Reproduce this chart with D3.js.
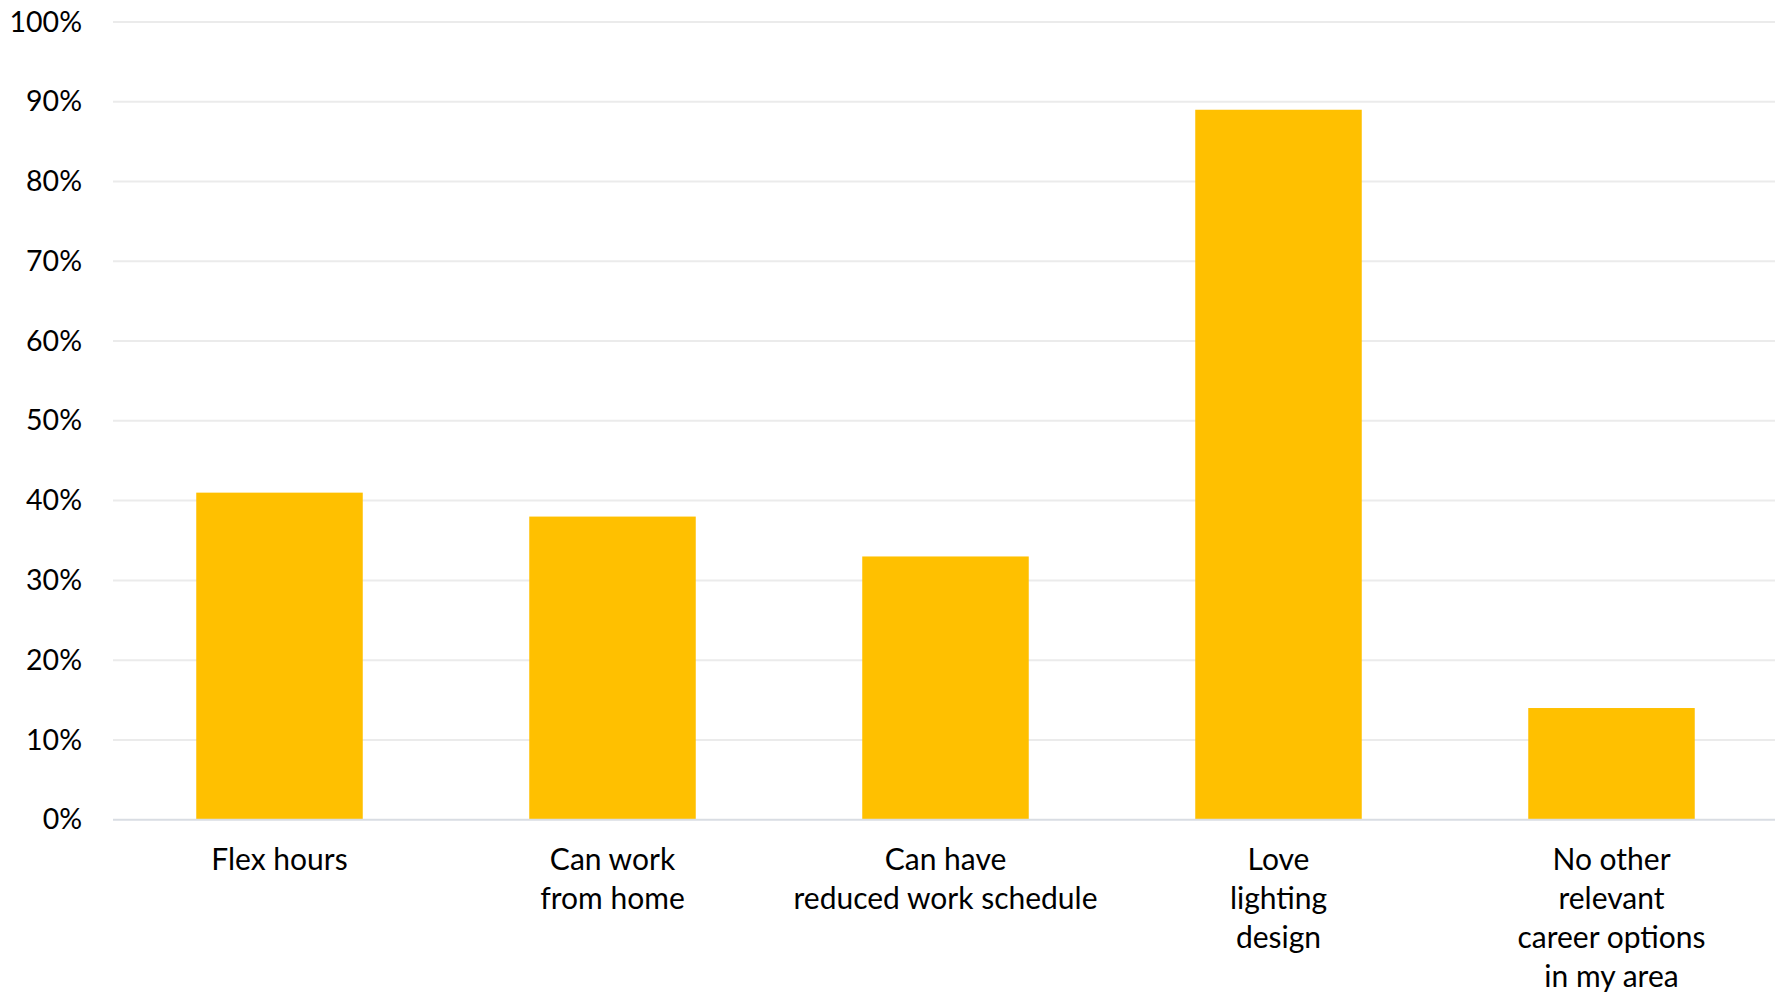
<!DOCTYPE html>
<html>
<head>
<meta charset="utf-8">
<script src="https://cdn.jsdelivr.net/npm/d3@7/dist/d3.min.js"></script>
<style>
  html, body { margin: 0; padding: 0; background: #ffffff; }
  svg { display: block; }
  text { font-family: Lato, "Open Sans", sans-serif; fill: #000; }
</style>
</head>
<body>
<svg id="chart" width="1775" height="994"></svg>
<script>
const categories = [
  ["Flex hours"],
  ["Can work", "from home"],
  ["Can have", "reduced work schedule"],
  ["Love", "lighting", "design"],
  ["No other", "relevant", "career options", "in my area"]
];
const values = [0.41, 0.38, 0.33, 0.89, 0.14];
const yTicks = [0, 0.1, 0.2, 0.3, 0.4, 0.5, 0.6, 0.7, 0.8, 0.9, 1.0];

const W = 1775, H = 994;
const margin = { left: 113, right: -3, top: 22, bottom: 994 - 819.7 };
const svg = d3.select("#chart");

const keys = categories.map(c => c.join(" "));
const x = d3.scaleBand().domain(keys).range([margin.left, W - margin.right]).paddingInner(0.5).paddingOuter(0.25);
const y = d3.scaleLinear().domain([0, 1]).range([H - margin.bottom, margin.top]);

// gridlines
svg.append("g").selectAll("line").data(yTicks.filter(t => t > 0)).join("line")
  .attr("x1", margin.left).attr("x2", W)
  .attr("y1", d => y(d)).attr("y2", d => y(d))
  .attr("stroke", "#ebebeb").attr("stroke-width", 2);

// bars
svg.append("g").selectAll("rect").data(values).join("rect")
  .attr("x", (d, i) => x(keys[i]))
  .attr("width", x.bandwidth())
  .attr("y", d => y(d))
  .attr("height", d => y(0) - y(d))
  .attr("fill", "#FFC000");

// baseline
svg.append("line")
  .attr("x1", margin.left).attr("x2", W)
  .attr("y1", y(0)).attr("y2", y(0))
  .attr("stroke", "#d9dde3").attr("stroke-width", 2);

// y axis
const yAxis = d3.axisLeft(y).tickValues(yTicks).tickFormat(d3.format(".0%")).tickSize(0).tickPadding(31);
const gy = svg.append("g").attr("transform", `translate(${margin.left},0)`).call(yAxis);
gy.select(".domain").remove();
gy.selectAll("text").attr("font-size", 28.5).attr("font-family", "Lato, 'Open Sans', sans-serif").attr("fill", "#000");

// x axis labels
const xAxis = d3.axisBottom(x).tickSize(0).tickFormat("");
const gx = svg.append("g").attr("transform", `translate(0,${y(0)})`).call(xAxis);
gx.select(".domain").remove();
gx.selectAll(".tick").each(function(d, i) {
  const t = d3.select(this).append("text")
    .attr("text-anchor", "middle")
    .attr("font-size", 30)
    .attr("fill", "#000");
  categories[i].forEach((line, j) => {
    t.append("tspan").attr("x", 0).attr("y", 50.5 + j * 39).text(line);
  });
});
</script>
</body>
</html>
